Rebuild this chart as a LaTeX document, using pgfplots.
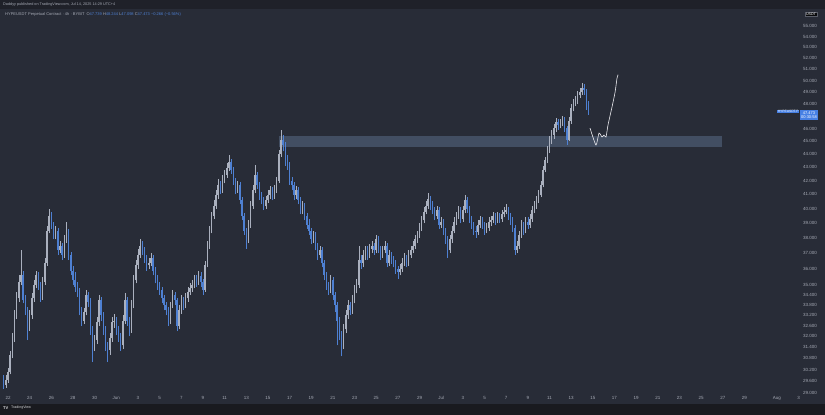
\documentclass[border=0pt]{standalone}
\usepackage{fontspec}
\setmainfont{Liberation Sans}
\usepackage{pgfplots}
\usepackage{pgfplotstable}
\pgfplotsset{compat=1.18}
\definecolor{bgc}{RGB}{40,44,55}
\definecolor{topc}{RGB}{31,33,41}
\definecolor{botc}{RGB}{25,26,31}
\definecolor{tickc}{RGB}{165,169,180}
\definecolor{upc}{RGB}{170,176,190}
\definecolor{dnc}{RGB}{78,128,210}
\definecolor{zonec}{RGB}{66,78,98}
\definecolor{wline}{RGB}{236,236,240}
\definecolor{lblc}{RGB}{70,128,228}

\pgfplotstableread{
d o h l c
-0.4 29.6 29.9 29.2 29.4
-0.2 29.4 29.9 29.25 29.66
0.0 29.66 30.3 29.5 30.08
0.2 30.08 31.2 29.95 30.98
0.4 30.98 32.2 30.8 31.9
0.6 31.9 33.5 31.7 33.22
0.8 33.22 34.6 33.0 34.2
1.0 34.2 35.6 34.0 35.2
1.2 35.2 37.2 35.0 35.62
1.4 35.62 35.9 33.9 34.1
1.6 34.1 34.4 33.2 33.5
1.8 33.5 33.7 31.8 32.5
2.0 32.5 33.5 32.3 33.2
2.2 33.2 34.5 33.0 34.2
2.4 34.2 35.3 34.0 35.0
2.6 35.0 35.9 34.8 35.6
2.8 35.6 35.8 34.7 35.0
3.0 35.0 35.2 34.0 34.3
3.2 34.3 35.5 34.1 35.2
3.4 35.2 36.7 35.0 36.4
3.6 36.4 38.8 36.2 38.5
3.8 38.5 40.0 38.3 39.5
4.0 39.5 39.8 38.6 38.9
4.2 38.9 39.1 37.9 38.2
4.4 38.2 38.8 37.9 38.5
4.6 38.5 38.7 36.9 37.2
4.8 37.2 37.8 37.0 37.5
5.0 37.5 37.7 36.6 36.9
5.2 36.9 38.2 36.7 37.9
5.4 37.9 39.1 37.7 38.4
5.6 38.4 38.6 36.6 36.9
5.8 36.9 37.1 35.6 35.9
6.0 35.9 36.2 35.0 35.3
6.2 35.3 35.8 34.6 34.9
6.4 34.9 35.2 34.3 34.6
6.6 34.6 34.8 33.2 33.5
6.8 33.5 33.7 32.6 32.9
7.0 32.9 33.6 32.7 33.4
7.2 33.4 34.7 33.2 34.4
7.4 34.4 34.6 33.7 34.0
7.6 34.0 34.2 32.1 32.4
7.8 32.4 32.6 30.6 31.5
8.0 31.5 32.1 31.2 31.8
8.2 31.8 33.1 31.6 32.8
8.4 32.8 34.4 32.6 34.1
8.6 34.1 34.3 32.9 33.2
8.8 33.2 33.4 32.1 32.4
9.0 32.4 32.6 31.2 31.5
9.2 31.5 31.7 30.6 31.25
9.4 31.25 32.2 31.0 31.9
9.6 31.9 33.1 31.7 32.8
9.8 32.8 33.3 32.5 32.9
10.0 32.9 33.1 32.1 32.4
10.2 32.4 32.6 31.7 32.0
10.4 32.0 32.2 31.2 31.5
10.6 31.5 33.2 31.3 32.9
10.8 32.9 34.5 32.7 34.1
11.0 34.1 34.3 32.6 32.9
11.2 32.9 33.1 32.0 32.4
11.4 32.4 34.1 32.2 33.8
11.6 33.8 35.6 33.6 35.3
11.8 35.3 36.6 35.1 36.25
12.0 36.25 37.3 36.0 36.9
12.2 36.9 37.9 36.7 37.5
12.4 37.5 37.8 36.9 37.2
12.6 37.2 37.4 36.4 36.7
12.8 36.7 36.9 35.9 36.25
13.0 36.25 36.7 36.0 36.4
13.2 36.4 37.0 36.2 36.7
13.4 36.7 36.9 35.6 35.9
13.6 35.9 36.1 35.1 35.4
13.8 35.4 35.6 34.7 35.0
14.0 35.0 35.2 34.4 34.7
14.2 34.7 34.9 33.9 34.2
14.4 34.2 34.4 33.5 33.8
14.6 33.8 34.0 33.2 33.5
14.8 33.5 33.7 32.6 32.9
15.0 32.9 34.0 32.7 33.8
15.2 33.8 34.7 33.6 34.4
15.4 34.4 34.6 33.8 34.1
15.6 34.1 34.2 32.3 32.6
15.8 32.6 33.8 32.4 33.5
16.0 33.5 34.4 33.3 34.1
16.2 34.1 34.3 33.5 33.8
16.4 33.8 34.5 33.6 34.2
16.6 34.2 34.9 34.0 34.6
16.8 34.6 35.1 34.4 34.8
17.0 34.8 35.3 34.6 35.0
17.2 35.0 35.6 34.8 35.3
17.4 35.3 35.6 34.9 35.2
17.6 35.2 35.9 35.0 35.55
17.8 35.55 35.8 34.9 35.2
18.0 35.2 35.4 34.4 34.7
18.2 34.7 36.5 34.6 36.25
18.4 36.25 37.8 36.1 37.5
18.6 37.5 38.8 37.3 38.5
18.8 38.5 39.8 38.3 39.5
19.0 39.5 40.6 39.3 40.2
19.2 40.2 41.3 40.0 40.95
19.4 40.95 42.1 40.7 41.7
19.6 41.7 42.0 41.0 41.3
19.8 41.3 42.4 41.1 42.0
20.0 42.0 42.8 41.8 42.4
20.2 42.4 43.3 42.2 42.95
20.4 42.95 43.9 42.7 43.4
20.6 43.4 43.6 42.5 42.8
20.8 42.8 43.0 41.7 42.0
21.0 42.0 42.2 41.0 41.3
21.2 41.3 42.0 41.1 41.7
21.4 41.7 41.9 40.3 40.6
21.6 40.6 40.8 39.2 39.5
21.8 39.5 39.7 38.2 38.5
22.0 38.5 38.7 37.3 37.9
22.2 37.9 39.2 37.7 38.9
22.4 38.9 40.5 38.7 40.2
22.6 40.2 41.7 40.0 41.3
22.8 41.3 43.15 41.1 42.4
23.0 42.4 42.6 41.4 41.7
23.2 41.7 41.9 40.6 40.95
23.4 40.95 41.2 40.3 40.6
23.6 40.6 40.8 39.9 40.2
23.8 40.2 40.9 40.0 40.6
24.0 40.6 41.3 40.4 40.95
24.2 40.95 41.6 40.7 41.3
24.4 41.3 41.5 40.6 40.95
24.6 40.95 41.7 40.7 41.3
24.8 41.3 42.3 41.1 42.0
25.0 42.0 44.3 41.8 44.0
25.2 44.0 45.9 43.8 45.1
25.4 45.1 45.5 44.2 44.7
25.6 44.7 44.9 43.1 43.5
25.8 43.5 43.9 42.8 43.15
26.0 43.15 43.4 41.7 42.0
26.2 42.0 42.3 41.3 41.7
26.4 41.7 41.9 40.6 40.95
26.6 40.95 41.6 40.7 41.3
26.8 41.3 41.5 40.3 40.6
27.0 40.6 40.8 39.6 39.9
27.2 39.9 40.5 39.6 40.2
27.4 40.2 40.4 39.2 39.5
27.6 39.5 39.7 38.6 38.9
27.8 38.9 39.3 38.2 38.5
28.0 38.5 38.7 37.6 37.9
28.2 37.9 38.5 37.7 38.2
28.4 38.2 38.4 37.2 37.5
28.6 37.5 37.7 36.6 36.9
28.8 36.9 37.5 36.7 37.2
29.0 37.2 37.4 36.1 36.4
29.2 36.4 36.6 35.3 35.6
29.4 35.6 35.8 34.7 35.0
29.6 35.0 35.2 34.4 34.7
29.8 34.7 35.6 34.5 35.3
30.0 35.3 35.5 34.1 34.4
30.2 34.4 34.6 33.4 33.8
30.4 33.8 34.0 31.5 32.9
30.6 32.9 33.1 31.8 32.1
30.8 32.1 32.3 30.9 31.5
31.0 31.5 32.7 31.3 32.4
31.2 32.4 33.5 32.2 33.2
31.4 33.2 34.1 33.0 33.8
31.6 33.8 34.0 33.2 33.5
31.8 33.5 34.4 33.3 34.1
32.0 34.1 35.0 33.9 34.7
32.2 34.7 35.4 34.5 35.0
32.4 35.0 37.5 34.8 36.6
32.6 36.6 36.9 36.0 36.4
32.8 36.4 37.2 36.1 36.9
33.0 36.9 37.5 36.6 37.2
33.2 37.2 37.5 36.6 36.9
33.4 36.9 37.6 36.7 37.3
33.6 37.3 37.8 37.0 37.5
33.8 37.5 37.7 36.9 37.2
34.0 37.2 38.2 37.0 37.9
34.2 37.9 38.1 37.0 37.3
34.4 37.3 37.5 36.6 36.9
34.6 36.9 37.5 36.7 37.2
34.8 37.2 37.8 37.0 37.5
35.0 37.5 37.7 36.1 36.4
35.2 36.4 37.2 36.2 36.9
35.4 36.9 37.1 36.3 36.6
35.6 36.6 36.8 36.1 36.4
35.8 36.4 36.6 35.7 36.0
36.0 36.0 36.2 35.4 35.8
36.2 35.8 36.3 35.6 36.0
36.4 36.0 36.7 35.8 36.4
36.6 36.4 37.0 36.2 36.7
36.8 36.7 36.9 36.1 36.4
37.0 36.4 37.2 36.2 36.9
37.2 36.9 37.5 36.7 37.2
37.4 37.2 37.8 37.0 37.5
37.6 37.5 38.2 37.3 37.9
37.8 37.9 38.5 37.7 38.2
38.0 38.2 39.0 38.0 38.7
38.2 38.7 39.5 38.5 39.2
38.4 39.2 40.1 39.0 39.8
38.6 39.8 40.5 39.6 40.2
38.8 40.2 41.1 40.0 40.7
39.0 40.7 40.9 39.9 40.2
39.2 40.2 40.5 39.6 39.9
39.4 39.9 40.1 39.2 39.5
39.6 39.5 40.2 39.3 39.9
39.8 39.9 40.1 38.6 38.9
40.0 38.9 39.4 38.7 39.1
40.2 39.1 39.3 38.2 38.5
40.4 38.5 38.7 37.6 37.9
40.6 37.9 38.1 36.7 37.2
40.8 37.2 38.2 37.0 37.9
41.0 37.9 38.8 37.7 38.5
41.2 38.5 39.4 38.3 39.1
41.4 39.1 39.8 38.9 39.5
41.6 39.5 40.2 39.3 39.9
41.8 39.9 40.1 39.0 39.3
42.0 39.3 40.2 39.1 39.9
42.2 39.9 40.95 39.7 40.6
42.4 40.6 40.8 39.7 40.0
42.6 40.0 40.2 39.0 39.3
42.8 39.3 39.5 38.6 38.9
43.0 38.9 39.1 38.2 38.5
43.2 38.5 38.8 38.0 38.4
43.4 38.4 39.2 38.2 38.9
43.6 38.9 39.5 38.7 39.2
43.8 39.2 39.4 38.6 38.9
44.0 38.9 39.1 38.2 38.5
44.2 38.5 39.0 38.3 38.7
44.4 38.7 39.4 38.5 39.1
44.6 39.1 39.5 38.8 39.2
44.8 39.2 39.8 39.0 39.5
45.0 39.5 39.7 38.9 39.2
45.2 39.2 39.8 39.0 39.5
45.4 39.5 39.7 39.0 39.3
45.6 39.3 39.9 39.1 39.6
45.8 39.6 40.1 39.4 39.8
46.0 39.8 40.3 39.6 39.9
46.2 39.9 40.1 39.2 39.5
46.4 39.5 39.7 38.9 39.2
46.6 39.2 39.4 38.4 38.7
46.8 38.7 38.9 36.9 37.2
47.0 37.2 37.8 37.0 37.5
47.2 37.5 38.5 37.3 38.2
47.4 38.2 39.2 38.0 38.9
47.6 38.9 39.1 38.2 38.5
47.8 38.5 39.4 38.3 39.1
48.0 39.1 39.4 38.6 38.9
48.2 38.9 39.6 38.7 39.3
48.4 39.3 40.2 39.1 39.9
48.6 39.9 40.5 39.7 40.2
48.8 40.2 40.9 40.0 40.6
49.0 40.6 41.3 40.4 40.95
49.2 40.95 42.0 40.8 41.7
49.4 41.7 43.1 41.5 42.8
49.6 42.8 43.8 42.6 43.5
49.8 43.5 44.6 43.3 44.3
50.0 44.3 45.4 44.1 45.1
50.2 45.1 45.9 44.8 45.5
50.4 45.5 46.4 45.2 46.0
50.6 46.0 46.85 45.7 46.5
50.8 46.5 46.8 45.9 46.3
51.0 46.3 46.8 46.0 46.5
51.2 46.5 47.0 46.2 46.7
51.4 46.7 46.9 45.7 46.0
51.6 46.0 46.2 44.7 45.1
51.8 45.1 46.9 45.0 46.6
52.0 46.6 48.0 46.4 47.7
52.2 47.7 48.4 47.4 48.1
52.4 48.1 48.7 47.8 48.3
52.6 48.3 49.1 48.0 48.8
52.8 48.8 49.4 48.5 49.0
53.0 49.0 49.8 48.8 49.4
53.2 49.4 49.7 48.8 49.2
53.4 49.2 49.3 47.5 47.739
53.6 47.739 48.244 47.098 47.473
}\candles
\pgfplotstablegetrowsof{\candles}
\pgfmathtruncatemacro{\lastrow}{\pgfplotsretval-1}

\begin{document}
\begin{tikzpicture}[x=1pt,y=1pt]
\fill[bgc] (0,0) rectangle (825,415);
\fill[topc] (0,406) rectangle (825,415);
\fill[botc] (0,0) rectangle (825,11);
\begin{axis}[
  at={(0pt,21pt)}, anchor=south west,
  scale only axis, width=800pt, height=384pt,
  ymode=log,
  xmin=-0.739, xmax=73.13,
  ymin=28.94, ymax=56.57,
  axis x line*=bottom, axis y line*=right,
  axis line style={draw=none},
  major tick length=0pt, minor tick num=0,
  tick style={draw=none},
  /pgf/number format/assume math mode=true,
  xtick={0,2,4,6,8,10,12,14,16,18,20,22,24,26,28,30,32,34,36,38,40,42,44,46,48,50,52,54,56,58,60,62,64,66,68,71,73},
  xticklabels={22,24,26,28,30,Jun,3,5,7,9,11,13,15,17,19,21,23,25,27,29,Jul,3,5,7,9,11,13,15,17,19,21,23,25,27,29,Aug,3},
  xticklabel style={font=\fontsize{4.5}{5}\selectfont, text=tickc, inner sep=0pt, anchor=north, yshift=-2.2pt},
  ytick={29,29.6,30.2,30.8,31.4,32,32.6,33.2,33.8,34.4,35,36,37,38,39,40,41,42,43,44,45,46,48,49,50,51,52,53,54,55},
  yticklabels={29.000,29.600,30.200,30.800,31.400,32.000,32.600,33.200,33.800,34.400,35.000,36.000,37.000,38.000,39.000,40.000,41.000,42.000,43.000,44.000,45.000,46.000,48.000,49.000,50.000,51.000,52.000,53.000,54.000,55.000},
  yticklabel style={font=\fontsize{4.5}{5}\selectfont, text=tickc, inner sep=0pt, anchor=west, xshift=3pt},
]
\addplot[forget plot, fill=zonec, draw=none] coordinates {(25.0,44.53) (65.9,44.53) (65.9,45.39) (25.0,45.39)};
\pgfplotsinvokeforeach{0,...,\lastrow}{
  \pgfplotstablegetelem{#1}{d}\of\candles \let\cd\pgfplotsretval
  \pgfplotstablegetelem{#1}{o}\of\candles \let\co\pgfplotsretval
  \pgfplotstablegetelem{#1}{h}\of\candles \let\ch\pgfplotsretval
  \pgfplotstablegetelem{#1}{l}\of\candles \let\cl\pgfplotsretval
  \pgfplotstablegetelem{#1}{c}\of\candles \let\cc\pgfplotsretval
  \pgfmathtruncatemacro{\isup}{(\cc>=\co)?1:0}
  \ifnum\isup=1 \def\ccol{upc}\else\def\ccol{dnc}\fi
  \edef\temp{\noexpand\addplot[forget plot, draw=\ccol, line width=0.5pt] coordinates {(\cd,\cl) (\cd,\ch)};
    \noexpand\addplot[forget plot, draw=\ccol, line width=1.5pt] coordinates {(\cd,\co) (\cd,\cc)};}
  \temp
}
\addplot[forget plot, draw=wline, line width=0.6pt, smooth, tension=0.35] coordinates {
(53.74,46.03) (54.29,44.69) (54.57,45.63) (54.85,45.32) (55.03,45.47) (55.22,45.32) (55.40,46.27) (55.77,47.75) (56.05,48.98) (56.23,50.19) (56.33,50.52)};
\end{axis}
% header
\node[anchor=west, inner sep=0pt, text=tickc, font=\fontsize{3.8}{4.5}\selectfont] at (3,410.5) {Daddyy published on TradingView.com, Jul 14, 2025 14:29 UTC+4};
\node[anchor=west, inner sep=0pt, text=tickc, font=\fontsize{4}{5}\selectfont] at (5,401) {HYPEUSDT Perpetual Contract · 4h · BYBIT\enspace O\textcolor{dnc}{47.739} H\textcolor{dnc}{48.244} L\textcolor{dnc}{47.098} C\textcolor{dnc}{47.473} \textcolor{dnc}{−0.266 (−0.56\%)}};
% currency box
\node[fill=black!80!bgc, draw=tickc!40!bgc, line width=0.3pt, text=white, inner sep=1pt, font=\fontsize{3.6}{4}\selectfont] at (811,401) {USDT};
% price labels
\node[fill=lblc, text=white, inner sep=0.8pt, anchor=east, font=\fontsize{3.3}{4}\selectfont] at (799.5,303.5) {HYPEUSDT.P};
\node[fill=lblc, text=white, inner sep=1pt, anchor=west, align=center, font=\fontsize{4}{4.6}\selectfont] at (800,300) {47.473\\00:30:58};
% logo
\node[anchor=west, inner sep=0pt, text=white!85!bgc, font=\fontsize{4}{5}\bfseries\selectfont] at (3,7) {TV};
\node[anchor=west, inner sep=0pt, text=white!80!bgc, font=\fontsize{3.6}{4.5}\selectfont] at (11,7) {TradingView};
\end{tikzpicture}
\end{document}
